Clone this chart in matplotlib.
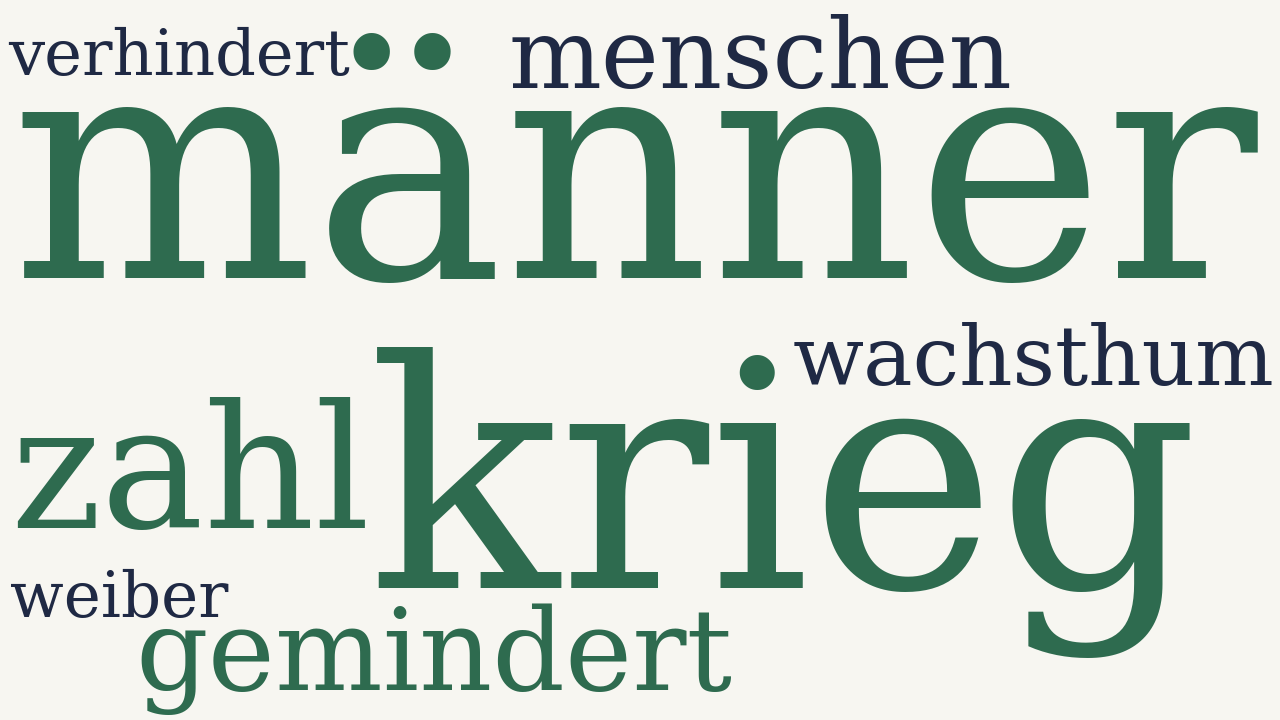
import matplotlib
matplotlib.use("Agg")
from matplotlib import pyplot as plt

# word cloud data
words = ['männer', 'krieg', 'zahl', 'gemindert', 'menschen', 'wachsthum', 'verhindert', 'weiber']
weights = [100, 90, 45, 40, 38, 30, 22, 18]
groups = ['green', 'green', 'green', 'green', 'navy', 'navy', 'navy', 'navy']

# layout (pixels): left x, baseline y, target width
boxes = [
    (10, 278, 1248),
    (368, 588, 832),
    (10, 528, 360),
    (135, 690, 597),
    (508, 88, 504),
    (793, 385, 482),
    (8, 75, 342),
    (10, 617, 218),
]

clrs = {'green': '#2e6b4f', 'navy': '#1f2944'}
bg = '#f7f6f1'

W, H = 1280, 720
fig = plt.figure(figsize=(W / 100, H / 100), dpi=100, facecolor=bg)
renderer = fig.canvas.get_renderer()

for word, grp, (x, y, tw) in zip(words, groups, boxes):
    t = fig.text(x / W, 1 - y / H, word, fontsize=100, color=clrs[grp],
                 family='DejaVu Serif', ha='left', va='baseline')
    w = t.get_window_extent(renderer).width
    t.set_fontsize(100 * tw / w)

fig.savefig('out.png', dpi=100, facecolor=bg)
